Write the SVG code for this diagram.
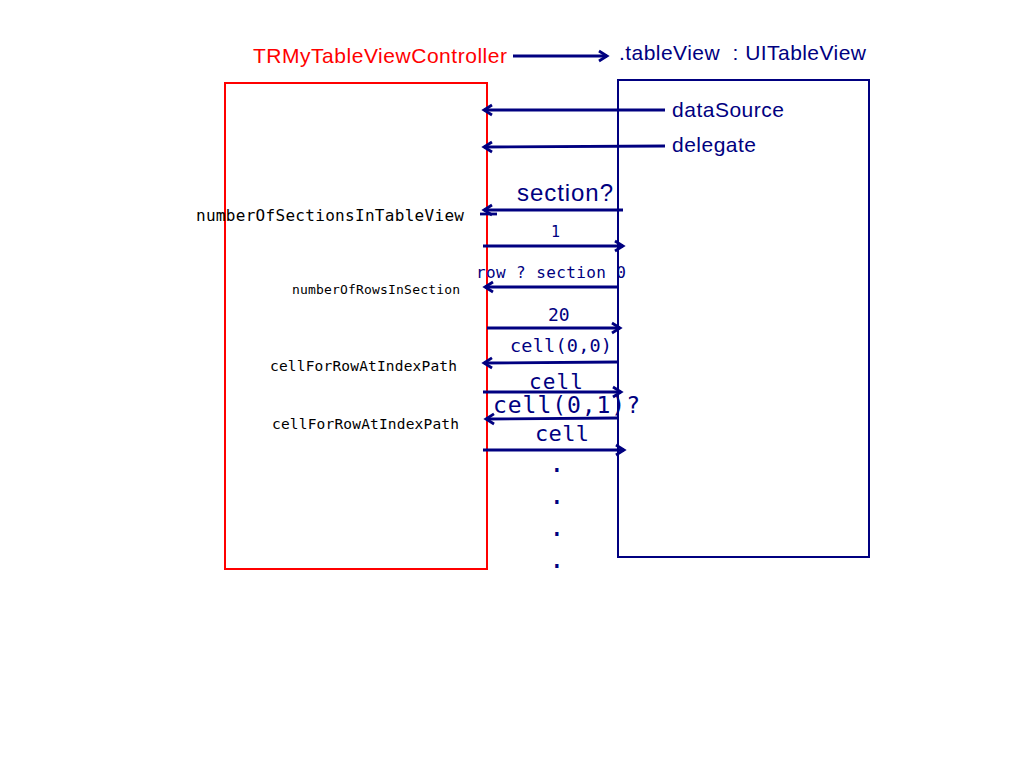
<svg xmlns="http://www.w3.org/2000/svg" width="1024" height="768" viewBox="0 0 1024 768">
<style>
.sans{font-family:"Liberation Sans",Arial,sans-serif;}
.mono{font-family:"DejaVu Sans Mono","Liberation Mono",monospace;}
.blue{fill:#000080;}
.blk{fill:#000;}
.ln{stroke:#000080;stroke-width:2.8;fill:none;}
</style>
<defs>
<marker id="ah" markerWidth="14" markerHeight="14" refX="11" refY="7" orient="auto" markerUnits="userSpaceOnUse">
<path d="M3,2 L11,7 L3,12" fill="none" stroke="#000080" stroke-width="2.8"/>
</marker>
</defs>
<rect width="1024" height="768" fill="#fff"/>
<g id="controller">
<rect x="225" y="83" width="262" height="486" fill="none" stroke="#ff0000" stroke-width="2"/>
<text class="sans" x="253" y="63" font-size="21" fill="#ff0000" textLength="254">TRMyTableViewController</text>
</g>
<g id="tableview">
<rect x="618" y="80" width="251" height="477" fill="none" stroke="#000080" stroke-width="2"/>
<text class="sans blue" x="619" y="60" font-size="21" textLength="247" xml:space="preserve">.tableView  : UITableView</text>
<text class="sans blue" x="672" y="117" font-size="21" textLength="112">dataSource</text>
<text class="sans blue" x="672" y="152" font-size="21" textLength="84">delegate</text>
</g>
<g id="labels">
<text class="sans blue" x="517" y="201" font-size="24" textLength="96">section?</text>
<text class="mono blk" x="196" y="221" font-size="16" textLength="268">numberOfSectionsInTableView</text>
<text class="mono blue" x="551" y="237" font-size="15">1</text>
<text class="mono blue" x="476" y="278" font-size="16" textLength="150">row ? section 0</text>
<text class="mono blk" x="292" y="294" font-size="13" textLength="168">numberOfRowsInSection</text>
<text class="mono blue" x="548" y="321" font-size="18">20</text>
<text class="mono blue" x="510" y="352" font-size="18.5" textLength="102">cell(0,0)</text>
<text class="mono blk" x="270" y="371" font-size="14.5" textLength="187">cellForRowAtIndexPath</text>
<text class="mono blue" x="529" y="389" font-size="21" textLength="54">cell</text>
<text class="mono blue" x="493" y="413" font-size="23" textLength="147">cell(0,1)?</text>
<text class="mono blk" x="272" y="429" font-size="14.5" textLength="187">cellForRowAtIndexPath</text>
<text class="mono blue" x="535" y="441" font-size="22" textLength="54">cell</text>
<text class="mono blue" x="549" y="472" font-size="26">.</text>
<text class="mono blue" x="549" y="504" font-size="26">.</text>
<text class="mono blue" x="549" y="536" font-size="26">.</text>
<text class="mono blue" x="549" y="568" font-size="26">.</text>
</g>
<g id="connectors">
<line class="ln" x1="513" y1="56" x2="607" y2="56" marker-end="url(#ah)"/>
<line class="ln" x1="665" y1="110" x2="484" y2="110" marker-end="url(#ah)"/>
<line class="ln" x1="665" y1="146" x2="484" y2="147" marker-end="url(#ah)"/>
<line class="ln" x1="623" y1="210" x2="484" y2="210" marker-end="url(#ah)"/>
<line class="ln" x1="480" y1="214" x2="497" y2="214"/>
<line class="ln" x1="483" y1="246" x2="623" y2="246" marker-end="url(#ah)"/>
<line class="ln" x1="617" y1="287" x2="485" y2="287" marker-end="url(#ah)"/>
<line class="ln" x1="487" y1="328" x2="620" y2="328" marker-end="url(#ah)"/>
<line class="ln" x1="617" y1="362" x2="484" y2="363" marker-end="url(#ah)"/>
<line class="ln" x1="483" y1="392" x2="621" y2="392" marker-end="url(#ah)"/>
<line class="ln" x1="617" y1="418" x2="486" y2="419" marker-end="url(#ah)"/>
<line class="ln" x1="483" y1="450" x2="624" y2="450" marker-end="url(#ah)"/>
</g>
</svg>
